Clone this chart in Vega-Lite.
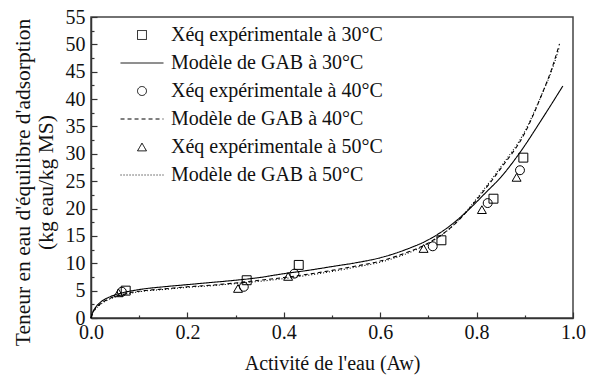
{
  "$schema": "https://vega.github.io/schema/vega-lite/v6.json",
  "autosize": {"type": "none"},
  "padding": {"left": 91, "top": 17, "right": 24, "bottom": 67},
  "width": 482,
  "height": 301,
  "config": {
    "font": "Liberation Serif",
    "view": {"stroke": "#444", "strokeWidth": 1.5},
    "axis": {"grid": false, "domainColor": "#333", "domainWidth": 1.5, "tickColor": "#333", "tickWidth": 1.2, "labelColor": "#111", "titleColor": "#111", "labelFont": "Liberation Serif", "titleFont": "Liberation Serif", "labelFontSize": 20, "titleFontSize": 20, "titleFontWeight": "normal"}
  },
  "datasets": {
    "pts": [
      {"aw": 0.072, "x": 5.0, "serie": "Xéq expérimentale à 30°C"},
      {"aw": 0.323, "x": 6.9, "serie": "Xéq expérimentale à 30°C"},
      {"aw": 0.431, "x": 9.7, "serie": "Xéq expérimentale à 30°C"},
      {"aw": 0.727, "x": 14.2, "serie": "Xéq expérimentale à 30°C"},
      {"aw": 0.835, "x": 21.8, "serie": "Xéq expérimentale à 30°C"},
      {"aw": 0.897, "x": 29.3, "serie": "Xéq expérimentale à 30°C"},
      {"aw": 0.064, "x": 4.8, "serie": "Xéq expérimentale à 40°C"},
      {"aw": 0.317, "x": 5.7, "serie": "Xéq expérimentale à 40°C"},
      {"aw": 0.422, "x": 8.1, "serie": "Xéq expérimentale à 40°C"},
      {"aw": 0.709, "x": 13.1, "serie": "Xéq expérimentale à 40°C"},
      {"aw": 0.823, "x": 21.0, "serie": "Xéq expérimentale à 40°C"},
      {"aw": 0.890, "x": 27.0, "serie": "Xéq expérimentale à 40°C"},
      {"aw": 0.057, "x": 4.6, "serie": "Xéq expérimentale à 50°C"},
      {"aw": 0.305, "x": 5.4, "serie": "Xéq expérimentale à 50°C"},
      {"aw": 0.409, "x": 7.6, "serie": "Xéq expérimentale à 50°C"},
      {"aw": 0.690, "x": 12.7, "serie": "Xéq expérimentale à 50°C"},
      {"aw": 0.811, "x": 19.8, "serie": "Xéq expérimentale à 50°C"},
      {"aw": 0.883, "x": 25.7, "serie": "Xéq expérimentale à 50°C"}
    ],
    "curves": [
      {"aw": 0, "x": 0, "serie": "Modèle de GAB à 30°C"},
      {"aw": 0.003, "x": 0.9, "serie": "Modèle de GAB à 30°C"},
      {"aw": 0.01, "x": 2.0, "serie": "Modèle de GAB à 30°C"},
      {"aw": 0.02, "x": 2.9, "serie": "Modèle de GAB à 30°C"},
      {"aw": 0.04, "x": 3.9, "serie": "Modèle de GAB à 30°C"},
      {"aw": 0.07, "x": 4.7, "serie": "Modèle de GAB à 30°C"},
      {"aw": 0.1, "x": 5.2, "serie": "Modèle de GAB à 30°C"},
      {"aw": 0.15, "x": 5.7, "serie": "Modèle de GAB à 30°C"},
      {"aw": 0.2, "x": 6.1, "serie": "Modèle de GAB à 30°C"},
      {"aw": 0.25, "x": 6.5, "serie": "Modèle de GAB à 30°C"},
      {"aw": 0.3, "x": 6.9, "serie": "Modèle de GAB à 30°C"},
      {"aw": 0.35, "x": 7.4, "serie": "Modèle de GAB à 30°C"},
      {"aw": 0.4, "x": 8.1, "serie": "Modèle de GAB à 30°C"},
      {"aw": 0.45, "x": 8.7, "serie": "Modèle de GAB à 30°C"},
      {"aw": 0.5, "x": 9.4, "serie": "Modèle de GAB à 30°C"},
      {"aw": 0.55, "x": 10.1, "serie": "Modèle de GAB à 30°C"},
      {"aw": 0.6, "x": 11.0, "serie": "Modèle de GAB à 30°C"},
      {"aw": 0.65, "x": 12.4, "serie": "Modèle de GAB à 30°C"},
      {"aw": 0.7, "x": 14.3, "serie": "Modèle de GAB à 30°C"},
      {"aw": 0.75, "x": 17.2, "serie": "Modèle de GAB à 30°C"},
      {"aw": 0.78, "x": 19.5, "serie": "Modèle de GAB à 30°C"},
      {"aw": 0.82, "x": 23.0, "serie": "Modèle de GAB à 30°C"},
      {"aw": 0.85, "x": 25.7, "serie": "Modèle de GAB à 30°C"},
      {"aw": 0.888, "x": 30.0, "serie": "Modèle de GAB à 30°C"},
      {"aw": 0.936, "x": 36.4, "serie": "Modèle de GAB à 30°C"},
      {"aw": 0.979, "x": 42.4, "serie": "Modèle de GAB à 30°C"},
      {"aw": 0, "x": 0, "serie": "Modèle de GAB à 40°C"},
      {"aw": 0.003, "x": 0.8, "serie": "Modèle de GAB à 40°C"},
      {"aw": 0.01, "x": 1.8, "serie": "Modèle de GAB à 40°C"},
      {"aw": 0.02, "x": 2.6, "serie": "Modèle de GAB à 40°C"},
      {"aw": 0.04, "x": 3.6, "serie": "Modèle de GAB à 40°C"},
      {"aw": 0.07, "x": 4.4, "serie": "Modèle de GAB à 40°C"},
      {"aw": 0.1, "x": 4.9, "serie": "Modèle de GAB à 40°C"},
      {"aw": 0.15, "x": 5.3, "serie": "Modèle de GAB à 40°C"},
      {"aw": 0.2, "x": 5.7, "serie": "Modèle de GAB à 40°C"},
      {"aw": 0.25, "x": 6.0, "serie": "Modèle de GAB à 40°C"},
      {"aw": 0.3, "x": 6.4, "serie": "Modèle de GAB à 40°C"},
      {"aw": 0.35, "x": 6.9, "serie": "Modèle de GAB à 40°C"},
      {"aw": 0.4, "x": 7.4, "serie": "Modèle de GAB à 40°C"},
      {"aw": 0.45, "x": 8.0, "serie": "Modèle de GAB à 40°C"},
      {"aw": 0.5, "x": 8.7, "serie": "Modèle de GAB à 40°C"},
      {"aw": 0.55, "x": 9.5, "serie": "Modèle de GAB à 40°C"},
      {"aw": 0.6, "x": 10.4, "serie": "Modèle de GAB à 40°C"},
      {"aw": 0.65, "x": 11.8, "serie": "Modèle de GAB à 40°C"},
      {"aw": 0.7, "x": 13.7, "serie": "Modèle de GAB à 40°C"},
      {"aw": 0.75, "x": 16.8, "serie": "Modèle de GAB à 40°C"},
      {"aw": 0.78, "x": 19.5, "serie": "Modèle de GAB à 40°C"},
      {"aw": 0.8, "x": 21.6, "serie": "Modèle de GAB à 40°C"},
      {"aw": 0.85, "x": 27.3, "serie": "Modèle de GAB à 40°C"},
      {"aw": 0.9, "x": 33.8, "serie": "Modèle de GAB à 40°C"},
      {"aw": 0.936, "x": 41.0, "serie": "Modèle de GAB à 40°C"},
      {"aw": 0.955, "x": 45.3, "serie": "Modèle de GAB à 40°C"},
      {"aw": 0.972, "x": 50.1, "serie": "Modèle de GAB à 40°C"},
      {"aw": 0, "x": 0, "serie": "Modèle de GAB à 50°C"},
      {"aw": 0.003, "x": 0.8, "serie": "Modèle de GAB à 50°C"},
      {"aw": 0.01, "x": 1.7, "serie": "Modèle de GAB à 50°C"},
      {"aw": 0.02, "x": 2.5, "serie": "Modèle de GAB à 50°C"},
      {"aw": 0.04, "x": 3.5, "serie": "Modèle de GAB à 50°C"},
      {"aw": 0.07, "x": 4.3, "serie": "Modèle de GAB à 50°C"},
      {"aw": 0.1, "x": 4.8, "serie": "Modèle de GAB à 50°C"},
      {"aw": 0.15, "x": 5.2, "serie": "Modèle de GAB à 50°C"},
      {"aw": 0.2, "x": 5.6, "serie": "Modèle de GAB à 50°C"},
      {"aw": 0.25, "x": 5.9, "serie": "Modèle de GAB à 50°C"},
      {"aw": 0.3, "x": 6.3, "serie": "Modèle de GAB à 50°C"},
      {"aw": 0.35, "x": 6.7, "serie": "Modèle de GAB à 50°C"},
      {"aw": 0.4, "x": 7.2, "serie": "Modèle de GAB à 50°C"},
      {"aw": 0.45, "x": 7.8, "serie": "Modèle de GAB à 50°C"},
      {"aw": 0.5, "x": 8.5, "serie": "Modèle de GAB à 50°C"},
      {"aw": 0.55, "x": 9.3, "serie": "Modèle de GAB à 50°C"},
      {"aw": 0.6, "x": 10.2, "serie": "Modèle de GAB à 50°C"},
      {"aw": 0.65, "x": 11.6, "serie": "Modèle de GAB à 50°C"},
      {"aw": 0.7, "x": 13.6, "serie": "Modèle de GAB à 50°C"},
      {"aw": 0.75, "x": 16.8, "serie": "Modèle de GAB à 50°C"},
      {"aw": 0.78, "x": 19.6, "serie": "Modèle de GAB à 50°C"},
      {"aw": 0.8, "x": 21.8, "serie": "Modèle de GAB à 50°C"},
      {"aw": 0.85, "x": 27.6, "serie": "Modèle de GAB à 50°C"},
      {"aw": 0.9, "x": 34.1, "serie": "Modèle de GAB à 50°C"},
      {"aw": 0.936, "x": 41.0, "serie": "Modèle de GAB à 50°C"},
      {"aw": 0.955, "x": 45.0, "serie": "Modèle de GAB à 50°C"},
      {"aw": 0.972, "x": 49.6, "serie": "Modèle de GAB à 50°C"}
    ]
  },
  "encoding": {
    "x": {"field": "aw", "type": "quantitative", "scale": {"domain": [0, 1], "nice": false},
      "axis": {"title": "Activité de l'eau (Aw)", "values": [0, 0.1, 0.2, 0.3, 0.4, 0.5, 0.6, 0.7, 0.8, 0.9, 1.0],
        "labelExpr": "round(datum.value*10) % 2 == 0 ? format(datum.value, '.1f') : ''",
        "tickSize": {"condition": {"test": "round(datum.value*10) % 2 == 0", "value": -6}, "value": -3},
        "labelFont": "Liberation Serif", "titleFont": "Liberation Serif",
        "labelOverlap": false, "labelFlush": false, "labelPadding": 10, "titlePadding": 8}},
    "y": {"field": "x", "type": "quantitative", "scale": {"domain": [0, 55], "nice": false},
      "axis": {"title": ["Teneur en eau d'équilibre d'adsorption", "(kg eau/kg MS)"],
        "values": [0, 2.5, 5, 7.5, 10, 12.5, 15, 17.5, 20, 22.5, 25, 27.5, 30, 32.5, 35, 37.5, 40, 42.5, 45, 47.5, 50, 52.5, 55],
        "labelExpr": "datum.value % 5 == 0 ? format(datum.value, 'd') : ''",
        "tickSize": {"condition": {"test": "datum.value % 5 == 0", "value": -6}, "value": -3},
        "labelFont": "Liberation Serif", "titleFont": "Liberation Serif", "titleFontSize": 21.5,
        "labelOverlap": false, "labelFlush": false, "labelPadding": 12, "titlePadding": 8, "titleLineHeight": 23, "titleY": 165}}
  },
  "layer": [
    {
      "data": {"name": "curves"},
      "mark": {"type": "line", "color": "black", "strokeWidth": 1.1, "interpolate": "monotone"},
      "encoding": {
        "detail": {"field": "serie"},
        "strokeDash": {"field": "serie", "type": "nominal",
          "scale": {"domain": ["Xéq expérimentale à 30°C", "Modèle de GAB à 30°C", "Xéq expérimentale à 40°C", "Modèle de GAB à 40°C", "Xéq expérimentale à 50°C", "Modèle de GAB à 50°C"],
            "range": [[1, 0], [1, 0], [1, 0], [4, 3], [1, 0], [1, 2]]}}
      }
    },
    {
      "data": {"name": "pts"},
      "mark": {"type": "point", "filled": false, "color": "black", "strokeWidth": 1, "size": 80, "opacity": 1},
      "encoding": {
        "shape": {"field": "serie", "type": "nominal",
          "scale": {"domain": ["Xéq expérimentale à 30°C", "Modèle de GAB à 30°C", "Xéq expérimentale à 40°C", "Modèle de GAB à 40°C", "Xéq expérimentale à 50°C", "Modèle de GAB à 50°C"],
            "range": ["square", "M-4.8,0H4.8", "circle", "M-4.8,0H4.8", "triangle-up", "M-4.8,0H4.8"]},
          "legend": {"title": null, "orient": "top-left", "offset": 8, "padding": 0,
            "labelFontSize": 20, "labelFont": "Liberation Serif", "labelColor": "#111", "labelLimit": 400,
            "symbolSize": 80, "symbolStrokeColor": "black", "symbolFillColor": "transparent", "symbolStrokeWidth": 1,
            "symbolOffset": 33, "labelOffset": 19, "rowPadding": 8}}
      }
    }
  ]
}
